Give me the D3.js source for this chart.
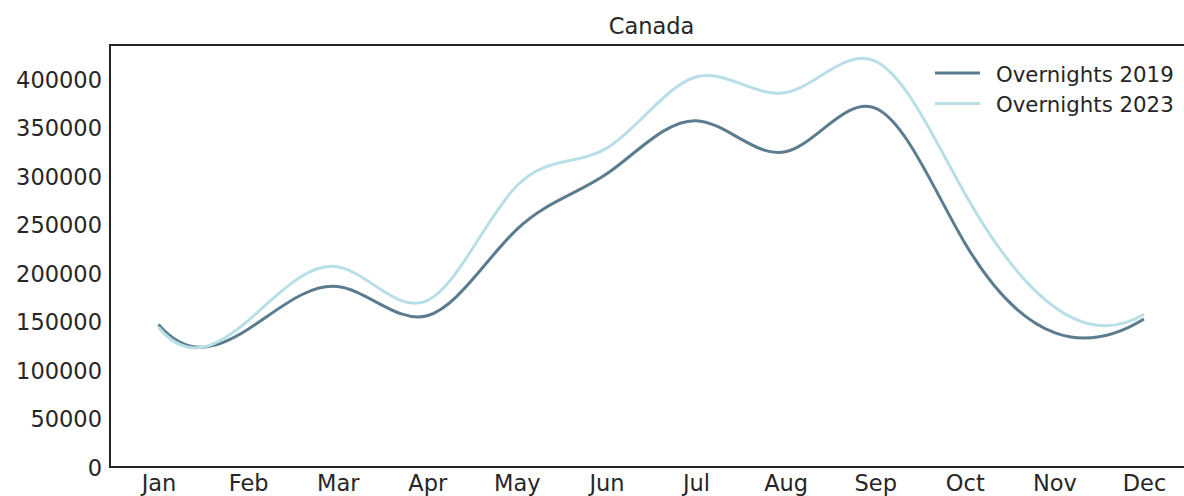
<!DOCTYPE html>
<html>
<head>
<meta charset="utf-8">
<script src="https://cdn.jsdelivr.net/npm/d3@7"></script>
<style>
  html, body { margin: 0; padding: 0; background: #fff; }
  svg { display: block; }
  text { font-family: "DejaVu Sans", sans-serif; fill: #262626; }
</style>
</head>
<body>
<svg id="chart" width="1184" height="496"></svg>
<script>
const title = "Canada";
const months = ["Jan","Feb","Mar","Apr","May","Jun","Jul","Aug","Sep","Oct","Nov","Dec"];
const overnights2019 = [147000, 142000, 186000, 156000, 245000, 302000, 357000, 325000, 370000, 231000, 138500, 152500];
const overnights2023 = [144000, 151000, 206500, 171500, 290000, 328500, 402000, 386000, 418500, 282000, 165000, 157500];
const yTicks = [0, 50000, 100000, 150000, 200000, 250000, 300000, 350000, 400000];
const seriesNames = ["Overnights 2019", "Overnights 2023"];
const seriesColors = ["#5a7c8e", "#b8dfe5"];

// Not-a-knot cubic spline curve for d3.line (like scipy make_interp_spline, k=3)
function curveNotAKnot(context) {
  let xs, ys;
  return {
    areaStart() {}, areaEnd() {},
    lineStart() { xs = []; ys = []; },
    point(px, py) { xs.push(+px); ys.push(+py); },
    lineEnd() {
      const n = xs.length;
      if (n === 0) return;
      context.moveTo(xs[0], ys[0]);
      if (n < 4) { for (let i = 1; i < n; i++) context.lineTo(xs[i], ys[i]); return; }
      const h = d3.range(n - 1).map(i => xs[i + 1] - xs[i]);
      const A = d3.range(n).map(() => new Array(n).fill(0));
      const b = new Array(n).fill(0);
      A[0][0] = -h[1]; A[0][1] = h[0] + h[1]; A[0][2] = -h[0];
      for (let i = 1; i < n - 1; i++) {
        A[i][i - 1] = h[i - 1]; A[i][i] = 2 * (h[i - 1] + h[i]); A[i][i + 1] = h[i];
        b[i] = 6 * ((ys[i + 1] - ys[i]) / h[i] - (ys[i] - ys[i - 1]) / h[i - 1]);
      }
      A[n - 1][n - 3] = -h[n - 2]; A[n - 1][n - 2] = h[n - 3] + h[n - 2]; A[n - 1][n - 1] = -h[n - 3];
      for (let c = 0; c < n; c++) {
        let p = c;
        for (let r = c + 1; r < n; r++) if (Math.abs(A[r][c]) > Math.abs(A[p][c])) p = r;
        [A[c], A[p]] = [A[p], A[c]]; [b[c], b[p]] = [b[p], b[c]];
        for (let r = c + 1; r < n; r++) {
          const f = A[r][c] / A[c][c];
          if (f === 0) continue;
          for (let k = c; k < n; k++) A[r][k] -= f * A[c][k];
          b[r] -= f * b[c];
        }
      }
      const M = new Array(n).fill(0);
      for (let r = n - 1; r >= 0; r--) {
        let s = b[r];
        for (let k = r + 1; k < n; k++) s -= A[r][k] * M[k];
        M[r] = s / A[r][r];
      }
      const slope = new Array(n);
      for (let i = 0; i < n - 1; i++) slope[i] = (ys[i + 1] - ys[i]) / h[i] - h[i] * (2 * M[i] + M[i + 1]) / 6;
      slope[n - 1] = (ys[n - 1] - ys[n - 2]) / h[n - 2] + h[n - 2] * (M[n - 2] + 2 * M[n - 1]) / 6;
      for (let i = 0; i < n - 1; i++) {
        const d = h[i] / 3;
        context.bezierCurveTo(xs[i] + d, ys[i] + slope[i] * d, xs[i + 1] - d, ys[i + 1] - slope[i + 1] * d, xs[i + 1], ys[i + 1]);
      }
    }
  };
}

const svg = d3.select("#chart");
const mLeft = 110, mTop = 45, mBottom = 467, mRight = 1193;

const x = d3.scaleLinear().domain([0, 11]).range([158.5, 1144]);
const y = d3.scaleLinear().domain([0, 400000]).range([mBottom, 79]);

// spines
svg.append("line").attr("x1", mLeft).attr("x2", mLeft).attr("y1", mTop).attr("y2", mBottom)
  .attr("stroke", "#262626").attr("stroke-width", 2);
svg.append("line").attr("x1", mLeft - 1).attr("x2", mRight).attr("y1", mBottom).attr("y2", mBottom)
  .attr("stroke", "#262626").attr("stroke-width", 2);
svg.append("line").attr("x1", mLeft - 1).attr("x2", mRight).attr("y1", mTop).attr("y2", mTop)
  .attr("stroke", "#262626").attr("stroke-width", 2);

// y axis labels
const yAxis = d3.axisLeft(y).tickValues(yTicks).tickSize(0).tickPadding(8).tickFormat(d3.format("d"));
const gy = svg.append("g").attr("transform", `translate(${mLeft},0)`).call(yAxis);
gy.select(".domain").remove();
gy.selectAll("text").attr("font-size", "22.5px").attr("fill", "#262626")
  .attr("font-family", "DejaVu Sans, sans-serif").attr("dy", "0.36em");

// x axis labels
const xAxis = d3.axisBottom(x).tickValues(d3.range(12)).tickSize(0).tickPadding(8)
  .tickFormat(i => months[i]);
const gx = svg.append("g").attr("transform", `translate(0,${mBottom})`).call(xAxis);
gx.select(".domain").remove();
gx.selectAll("text").attr("font-size", "22.5px").attr("fill", "#262626")
  .attr("font-family", "DejaVu Sans, sans-serif").attr("dy", "0.71em");

// lines
const line = d3.line().x((d, i) => x(i)).y(d => y(d)).curve(curveNotAKnot);
[overnights2019, overnights2023].forEach((s, k) => {
  svg.append("path").datum(s).attr("d", line).attr("fill", "none")
    .attr("stroke", seriesColors[k]).attr("stroke-width", 3);
});

// title
svg.append("text").attr("x", (mLeft + mRight) / 2).attr("y", 34).attr("text-anchor", "middle")
  .attr("font-size", "22.5px").text(title);

// legend
seriesNames.forEach((name, k) => {
  const ly = 73 + k * 30.5;
  svg.append("line").attr("x1", 935).attr("x2", 980).attr("y1", ly).attr("y2", ly)
    .attr("stroke", seriesColors[k]).attr("stroke-width", 3);
  svg.append("text").attr("x", 996).attr("y", ly + 8.5).attr("font-size", "21.3px").text(name);
});
</script>
</body>
</html>
